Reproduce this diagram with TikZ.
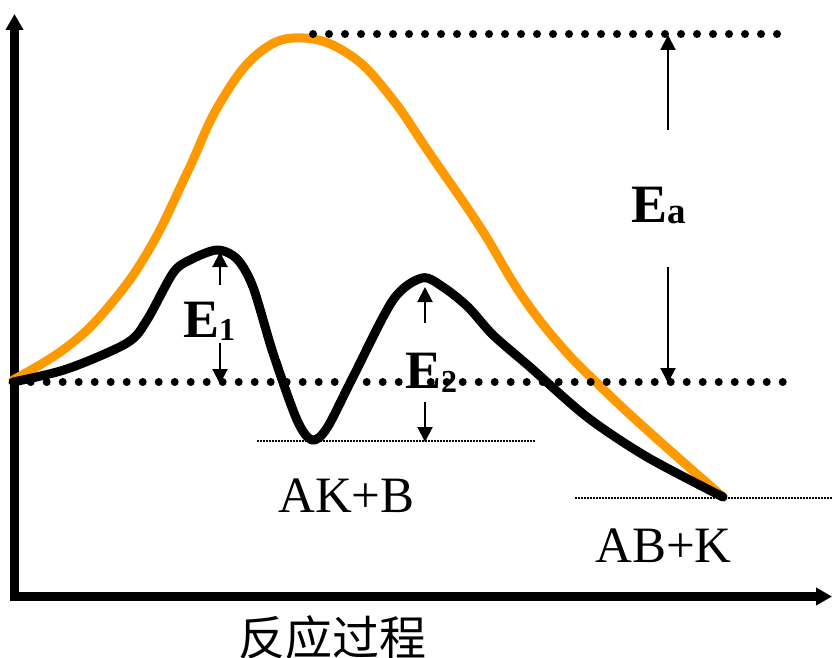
\documentclass[tikz,border=0pt]{standalone}
\usepackage{fontspec}
\setmainfont{Liberation Serif}
\newfontfamily\cjk{Noto Sans CJK SC}
\usetikzlibrary{arrows.meta}
\definecolor{curveorange}{HTML}{FF9900}
\begin{document}
\begin{tikzpicture}[x=1pt,y=-1pt,
  axisline/.style={line width=9pt,-{Triangle[width=17pt,length=16pt]}},
  bigdots/.style={line width=8pt,line cap=round,dash pattern=on 0pt off 16pt},
  thindots/.style={line width=1.5pt,dash pattern=on 1.5pt off 1.5pt},
  energyarrow/.style={line width=2pt,-{Triangle[width=15pt,length=15pt]}},
  curve/.style={line width=9pt,line join=round,line cap=round},
  elabel/.style={inner sep=0pt,anchor=base west},
  plainlabel/.style={inner sep=0pt,anchor=base west,font=\fontsize{51}{51}\selectfont}
]
\useasboundingbox (0,0) rectangle (832,658);
% axes
\coordinate (origin) at (14.5,601);
\coordinate (ytop) at (14.5,14);
\coordinate (xleft) at (10,596.5);
\coordinate (xright) at (832,596.5);
\draw[axisline] (origin) -- (ytop);
\draw[axisline] (xleft) -- (xright);
% thin dotted levels
\draw[thindots] (257,441) -- (535,441);
\draw[thindots] (575,498) -- (832,498);
% curves
\draw[curve,curveorange] plot[smooth,tension=0.7] coordinates {
 (13,380) (67,347) (110,305) (150,248) (187,173) (220,103) (260,52) (303,38)
 (350,55) (390,96) (430,154) (480,227) (520,293) (560,345) (600,386) (647,430) (723,497)};
\draw[curve,black] plot[smooth,tension=0.5] coordinates {
 (13,382) (67,369) (127,343) (147,320) (173,273) (190,260) (217,250) (237,259)
 (253,287) (273,353) (297,420) (312,440) (327,428) (353,377) (393,300) (422,278)
 (443,287) (468,307) (493,335) (530,367) (587,417) (647,457) (723,497)};
% big dotted levels
\draw[bigdots] (30.7,382) -- (783,382);
\draw[bigdots] (313,34) -- (777.5,34);
% energy arrows
\coordinate (e1a) at (220,285); \coordinate (e1b) at (220,252);
\coordinate (e1c) at (220,343); \coordinate (e1d) at (220,384);
\coordinate (e2a) at (425,323); \coordinate (e2b) at (425,287);
\coordinate (e2c) at (425,402); \coordinate (e2d) at (425,442);
\coordinate (eaa) at (668,130); \coordinate (eab) at (668,35);
\coordinate (eac) at (668,267); \coordinate (ead) at (668,383);
\draw[energyarrow] (e1a) -- (e1b);
\draw[energyarrow] (e1c) -- (e1d);
\draw[energyarrow] (e2a) -- (e2b);
\draw[energyarrow] (e2c) -- (e2d);
\draw[energyarrow] (eaa) -- (eab);
\draw[energyarrow] (eac) -- (ead);
% labels
\node[elabel] (E1) at (183,337) {\bfseries\fontsize{54}{54}\selectfont E\raisebox{-3pt}{\fontsize{32}{32}\selectfont 1}};
\node[elabel] (E2) at (405,388) {\bfseries\fontsize{54}{54}\selectfont E\raisebox{-4pt}{\fontsize{32}{32}\selectfont 2}};
\node[elabel] (Ea) at (631,222) {\bfseries\fontsize{54}{54}\selectfont E\raisebox{-1pt}{\fontsize{37}{37}\selectfont a}};
\node[plainlabel] (AKB) at (278,512) {AK+B};
\node[plainlabel] (ABK) at (595,562) {AB+K};
\node[inner sep=0pt,anchor=base west,font=\cjk\fontsize{47}{47}\selectfont] (xlabel) at (238,655) {反应过程};
\end{tikzpicture}
\end{document}
